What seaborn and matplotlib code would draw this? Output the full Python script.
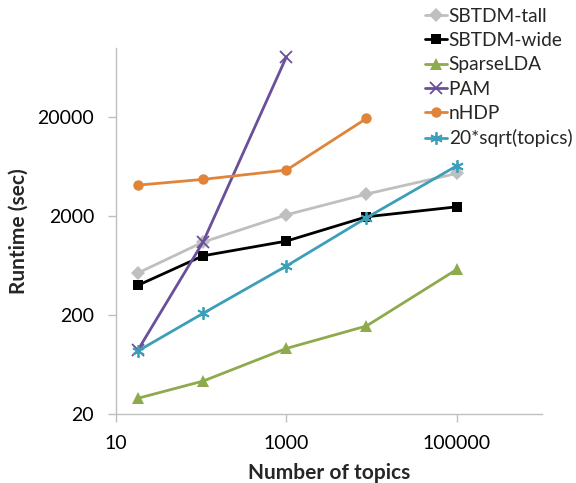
import matplotlib
matplotlib.use("Agg")
import matplotlib.pyplot as plt
import seaborn as sns
import numpy as np

sns.set_theme(style="white")
plt.rcParams['font.family'] = ['Lato', 'DejaVu Sans']

topics = [18, 105, 1000, 8700, 100000]
sbtdm_tall = [531, 1092, 2060, 3340, 5400]
sbtdm_wide = [399, 794, 1118, 1968, 2483]
sparse_lda = [28.8, 43, 92, 155, 578]
pam = [88, 1092, 81300]
nhdp = [4110, 4700, 5830, 19400]
sqrt_ref = [86.5, 208, 626, 1923, 6442]

series = [
    ("SBTDM-tall", topics, sbtdm_tall, "#BFBFBF", "D", 7),
    ("SBTDM-wide", topics, sbtdm_wide, "#000000", "s", 7.5),
    ("SparseLDA", topics, sparse_lda, "#8DAA4C", "^", 8),
    ("PAM", topics[:3], pam, "#6A4F9A", "x", 8),
    ("nHDP", topics[:4], nhdp, "#E0843A", "o", 7.5),
    ("20*sqrt(topics)", topics, sqrt_ref, "#3C9FB8", (6, 2, 0), 9),
]

fig = plt.figure(figsize=(5.76, 4.83), dpi=100)
ax = fig.add_axes([116/576, 1-414/483, (542-116)/576, (414-48)/483])

for name, xs, ys, c, m, ms in series:
    sns.lineplot(x=xs, y=ys, color=c, marker=m, markersize=ms,
                 markeredgecolor=c, markeredgewidth=1.3 if m in ("x",) or isinstance(m, tuple) else 0,
                 linewidth=2, label=name, ax=ax, sort=False)

ax.set_xscale("log")
ax.set_yscale("log")
ax.set_xlim(10, 1e6)
ax.set_ylim(20, 1e5)
ax.set_xticks([10, 1000, 100000])
ax.set_xticklabels(["10", "1000", "100000"])
ax.set_yticks([20, 200, 2000, 20000])
ax.set_yticklabels(["20", "200", "2000", "20000"])
ax.minorticks_off()
ax.tick_params(axis="both", which="major", length=5.8, width=1, color="#BFBFBF",
               labelsize=14, labelcolor="#000000", direction="out", pad=10)
ax.tick_params(axis="x", bottom=True, pad=9)
ax.tick_params(axis="y", left=True)
for s in ["top", "right"]:
    ax.spines[s].set_visible(False)
for s in ["left", "bottom"]:
    ax.spines[s].set_color("#BFBFBF")
    ax.spines[s].set_linewidth(1)

ax.set_xlabel("Number of topics", fontsize=15, fontweight="bold", labelpad=8)
ax.set_ylabel("Runtime (sec)", fontsize=15, fontweight="bold", labelpad=6)

ax.legend(loc="upper left", bbox_to_anchor=(419/576, 1 - 2/483), bbox_transform=fig.transFigure,
          frameon=False, fontsize=13.8, handlelength=1.15, handletextpad=0.1,
          labelspacing=0.38, borderaxespad=0.0, borderpad=0.3)

fig.savefig("out.png", dpi=100)
